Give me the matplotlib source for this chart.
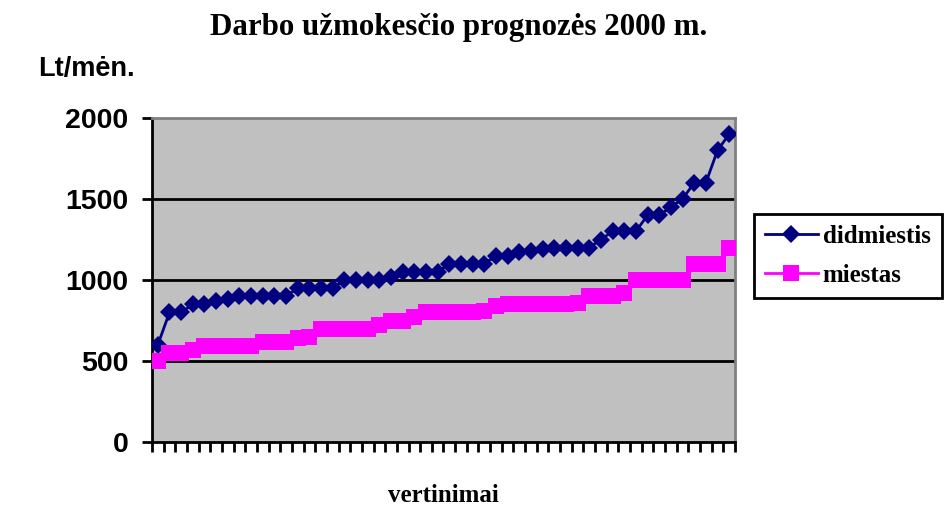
import numpy as np
import matplotlib
matplotlib.use('Agg')
import matplotlib.pyplot as plt

# wage forecast values (Lt/month), sorted ratings
didmiestis = [600, 800, 800, 850, 850, 870, 880, 900, 900, 900,
              900, 900, 950, 950, 950, 950, 1000, 1000, 1000, 1000,
              1020, 1050, 1050, 1050, 1050, 1100, 1100, 1100, 1100, 1150,
              1150, 1170, 1180, 1190, 1200, 1200, 1200, 1200, 1250, 1300,
              1300, 1300, 1400, 1400, 1450, 1500, 1600, 1600, 1800, 1900]
miestas = [500, 550, 550, 570, 590, 590, 590, 590, 590, 620,
           620, 620, 640, 650, 700, 700, 700, 700, 700, 720,
           750, 750, 770, 800, 800, 800, 800, 800, 810, 840,
           850, 850, 850, 850, 850, 850, 860, 900, 900, 900,
           920, 1000, 1000, 1000, 1000, 1000, 1100, 1100, 1100, 1200]
y_ticks = [0, 500, 1000, 1500, 2000]

serif = 'Liberation Serif'
sans = 'Liberation Sans'

fig = plt.figure(figsize=(9.45, 5.08), dpi=100)
ax = fig.add_axes([152 / 945, 1 - 442 / 508, 583 / 945, 324 / 508])
ax.set_facecolor('#C0C0C0')

x = np.arange(1, len(didmiestis) + 1)
ax.plot(x, didmiestis, color='#000080', lw=2, marker='D', ms=9,
        mew=0, label='didmiestis', zorder=3)
ax.plot(x, miestas, color='#FF00FF', lw=2, marker='s', ms=11.3,
        mew=0, label='miestas', zorder=3)

ax.set_xlim(0.5, len(didmiestis) + 0.5)
ax.set_ylim(0, 2000)
ax.set_yticks(y_ticks)
ax.set_yticklabels([str(v) for v in y_ticks], fontfamily=sans,
                   fontweight='bold', fontsize=20.5)
ax.set_xticks(np.arange(0.5, len(didmiestis) + 1, 1))
ax.set_xticklabels([])
ax.tick_params(axis='both', direction='out', length=7, width=2,
               color='black')
ax.tick_params(axis='y', pad=10)
for v in y_ticks[1:-1]:
    ax.axhline(v, color='black', lw=2, zorder=1)

for side in ['left', 'bottom']:
    ax.spines[side].set_color('black')
    ax.spines[side].set_linewidth(2)
for side in ['top', 'right']:
    ax.spines[side].set_color('#808080')
    ax.spines[side].set_linewidth(2)

fig.text(459 / 945, 1 - 28 / 508, 'Darbo užmokesčio prognozės 2000 m.',
         ha='center', va='center', fontfamily=serif, fontweight='bold',
         fontsize=22.3)
fig.text(38 / 945, 1 - 69 / 508, 'Lt/mėn.', ha='left', va='center',
         fontfamily=sans, fontweight='bold', fontsize=19.5)
fig.text(443 / 945, 1 - 496 / 508, 'vertinimai', ha='center',
         va='center', fontfamily=serif, fontweight='bold', fontsize=18)

leg = fig.legend(loc='center left', bbox_to_anchor=(754 / 945, 1 - 256 / 508),
                 prop={'family': serif, 'weight': 'bold', 'size': 18},
                 frameon=True, fancybox=False, framealpha=1,
                 edgecolor='black', handlelength=2.1, handletextpad=0.2,
                 borderpad=0.45, labelspacing=0.65, borderaxespad=0)
leg.get_frame().set_linewidth(2)

plt.savefig('out.png', dpi=100)
